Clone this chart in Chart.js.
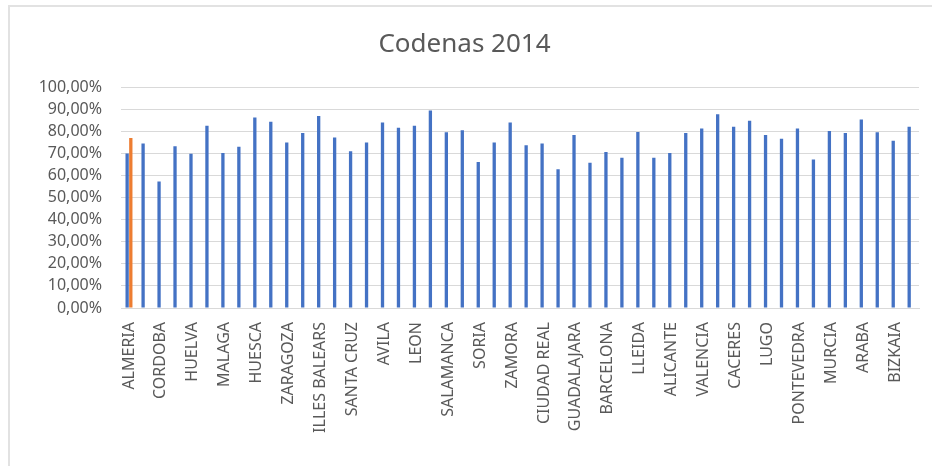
<!DOCTYPE html>
<html>
<head>
<meta charset="utf-8">
<title>Codenas 2014</title>
<script src="https://cdn.jsdelivr.net/npm/chart.js@4/dist/chart.umd.min.js"></script>
<style>
  html, body { margin: 0; padding: 0; background: #fff; overflow: hidden; }
  #wrap { position: relative; width: 932px; height: 466px; }
  #frame {
    position: absolute; left: 8px; top: 5px; right: -10px; bottom: -10px;
    border-top: 2px solid #e2e2e2; border-left: 2px solid #e2e2e2;
    pointer-events: none;
  }
</style>
</head>
<body>
<div id="wrap">
  <canvas id="myChart" width="932" height="466"></canvas>
  <div id="frame"></div>
</div>
<script>
var provincias = [
  "ALMERIA", "CADIZ", "CORDOBA", "GRANADA", "HUELVA", "JAEN", "MALAGA", "SEVILLA",
  "HUESCA", "TERUEL", "ZARAGOZA", "ASTURIAS", "ILLES BALEARS", "LAS PALMAS", "SANTA CRUZ",
  "CANTABRIA", "AVILA", "BURGOS", "LEON", "PALENCIA", "SALAMANCA", "SEGOVIA", "SORIA",
  "VALLADOLID", "ZAMORA", "ALBACETE", "CIUDAD REAL", "CUENCA", "GUADALAJARA", "TOLEDO",
  "BARCELONA", "GIRONA", "LLEIDA", "TARRAGONA", "ALICANTE", "CASTELLON", "VALENCIA",
  "BADAJOZ", "CACERES", "CORUÑA", "LUGO", "OURENSE", "PONTEVEDRA", "MADRID", "MURCIA",
  "NAVARRA", "ARABA", "GIPUZKOA", "BIZKAIA", "LA RIOJA"
];

// % por provincia
var valores = [
  70.0, 74.5, 57.3, 73.3, 69.9, 82.5, 70.2, 73.0,
  86.3, 84.3, 74.9, 79.3, 86.9, 77.2, 71.0,
  74.9, 84.0, 81.6, 82.5, 89.4, 79.6, 80.5, 66.1,
  74.9, 84.0, 73.7, 74.5, 62.8, 78.3, 65.8,
  70.7, 68.1, 79.7, 68.1, 70.2, 79.3, 81.3,
  87.8, 82.1, 84.8, 78.3, 76.7, 81.3, 67.2, 80.2,
  79.3, 85.4, 79.6, 75.7, 82.1
];

// serie destacada, solo Almeria
var destacado = [77.0];

var ticksY = [0, 10, 20, 30, 40, 50, 60, 70, 80, 90, 100];

var txt = "#595959";
var fuente = "'Noto Sans', 'Open Sans', sans-serif";

var serieDestacada = provincias.map(function(p, i) {
  return i < destacado.length ? destacado[i] : null;
});

var ctx = document.getElementById("myChart");
var myChart = new Chart(ctx, {
  type: 'bar',
  data: {
    labels: provincias,
    datasets: [
      {
        label: "2014",
        data: valores,
        backgroundColor: "#4472C4",
        categoryPercentage: 0.46,
        barPercentage: 0.9
      }, {
        label: "Almeria",
        data: serieDestacada,
        backgroundColor: "#ED7D31",
        categoryPercentage: 0.46,
        barPercentage: 0.9
      }
    ]
  },
  options: {
    responsive: false,
    animation: false,
    layout: { padding: { left: 10, right: 13, top: 29, bottom: 0 } },
    plugins: {
      legend: { display: false },
      tooltip: { enabled: false },
      title: {
        display: true,
        text: "Codenas 2014",
        color: txt,
        font: { family: fuente, size: 26, weight: 'normal' },
        padding: { top: 0, bottom: 27 }
      }
    },
    scales: {
      x: {
        grid: { display: false },
        border: { color: "#d9d9d9" },
        ticks: {
          autoSkip: false,
          maxRotation: 90,
          minRotation: 90,
          padding: 6,
          color: txt,
          font: { family: fuente, size: 16 },
          callback: function(v, i) {
            return i % 2 === 0 ? this.getLabelForValue(v) : '';
          }
        },
        afterFit: function(scale) {
          scale.height = 158;
          scale.paddingRight = 0;
        }
      },
      y: {
        min: 0,
        max: 100,
        afterBuildTicks: function(scale) {
          scale.ticks = ticksY.map(function(v) { return { value: v }; });
        },
        grid: { color: "#d9d9d9", drawTicks: false },
        border: { display: false },
        ticks: {
          autoSkip: false,
          padding: 19,
          color: txt,
          font: { family: fuente, size: 16 },
          callback: function(v) {
            return v.toFixed(2).replace('.', ',') + '%';
          }
        },
        afterFit: function(scale) { scale.width = 111; }
      }
    }
  }
});
</script>
</body>
</html>
